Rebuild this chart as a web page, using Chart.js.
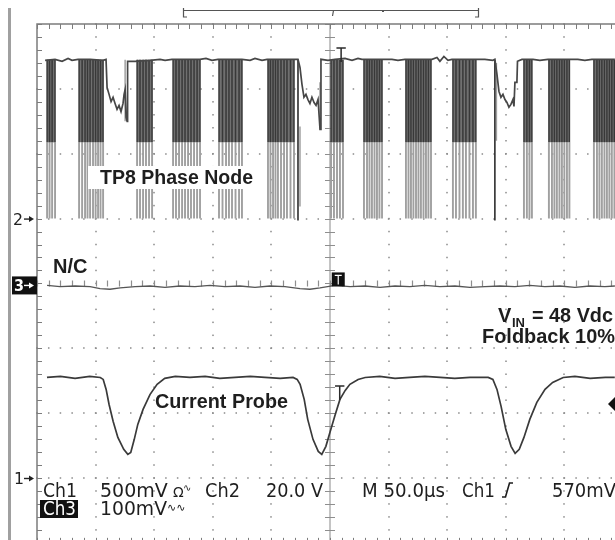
<!DOCTYPE html>
<html>
<head>
<meta charset="utf-8">
<script src="https://cdn.jsdelivr.net/npm/chart.js@4.4.0/dist/chart.umd.min.js"></script>
<style>
html, body { margin: 0; padding: 0; background: #fff; }
canvas { display: block; }
</style>
</head>
<body>
<canvas id="scope" width="615" height="540"></canvas>
<script>
// Horizontal: time in us relative to trigger, 50 us/div. Vertical: screen divisions.
const timeMin = -250;
const timeMax = 243.2;      // screen crop stops a little before the last division
const levelMin = -3.956;
const levelMax = 4;
const divTimes = [-250, -200, -150, -100, -50, 0, 50, 100, 150, 200, 250];
const divLevels = [4, 3, 2, 1, 0, -1, -2, -3, -4];

// channel settings (per div, ground marker position in div)
const ch1MvPerDiv = 500, ch1Ground = -3;
const ch2VPerDiv = 20, ch2Ground = 1;
const ch3MvPerDiv = 100, ch3Ground = 0;

// Ch1 - current probe (mV)
const ch1Time = [-241.5, -230, -217.5, -205, -196, -193.5, -191, -188.5, -185, -181, -176, -172.5, -170, -167, -164, -159.5, -153.5, -147.5, -141, -132,
  -119.5, -106.5, -94, -81, -68, -55.5, -42.5, -31.5, -28, -25.5, -22, -19, -14.5, -10, -7, -3.5, 0, 4.5, 8.5, 13, 17, 24, 30, 42.5,
  55.5, 68, 81, 94, 106.5, 119.5, 135, 139, 142.5, 146, 150, 154.5, 158, 161.5, 165.5, 170.5, 176.5, 183.5, 190, 199, 209, 222, 235, 243];
const ch1Mv = [775, 783, 768, 783, 775, 760, 683, 567, 436, 313, 221, 182, 197, 298, 413, 529, 645, 722, 768, 783,
  775, 783, 768, 775, 783, 775, 768, 775, 760, 722, 606, 452, 298, 205, 182, 244, 352, 490, 606, 675, 722, 760, 775, 783,
  768, 775, 783, 775, 768, 775, 775, 760, 683, 552, 375, 244, 190, 221, 313, 452, 583, 683, 737, 775, 783, 768, 775, 775];

// Ch2 - TP8 phase node (V): upper envelope incl. ringing after each burst train
const ch2TopTime = [-243.1, -234.6, -228.6, -223.5, -220.1, -215, -204.7, -193.6, -191.1,
  -190.2, -188.5, -186.8, -185.1, -183.4, -181.7, -180, -178.3, -176.6, -175.7, -174.8, -174, -173.1, -172.7,
  -166.3, -153.5, -145, -140.7, -134.8, -110.9, -105.8, -100.7, -95.5, -75.1, -68.2, -64, -58, -53.7, -29.9, -27.3,
  -25.6, -23.9, -22.2, -20.5, -18.8, -17.1, -15.4, -13.6, -11.9, -10.2, -8.5, -7.7,
  -1.7, 4.3, 12.8, 18.8, 23.9, 27.3, 45.2, 52.9, 58, 64, 87, 91.3, 93.8, 97.2, 100.7, 104.1, 125.4, 132.2, 139, 140.7,
  142.5, 144.2, 145.9, 147.6, 149.3, 151, 152.7, 154.4, 156.1, 157, 157.8, 159.5, 160,
  163.8, 173.2, 179.1, 186, 204.7, 211.5, 217.5, 223.5, 243.1];
const ch2TopVolt = [48.8, 49.1, 48.5, 49.4, 48.8, 49.1, 49.1, 48.8, 49.1,
  40.4, 38.3, 36.1, 37.4, 35.5, 33.7, 34.9, 33, 35.5, 38.3, 39.8, 31.2, 30, 48.5,
  48.5, 48.8, 49.1, 48.8, 49.1, 49.1, 49.4, 48.8, 49.1, 49.1, 48.8, 49.4, 48.8, 49.1, 49.1, 49.1,
  46.6, 41.4, 37.4, 38.3, 36.7, 35.5, 37.4, 35.8, 34.9, 36.7, 27.5, 49.1,
  48.8, 49.1, 49.4, 48.8, 49.4, 49.1, 49.1, 49.1, 48.8, 49.1, 49.1, 49.7, 48.5, 50, 48.8, 49.1, 49.1, 49.1, 48.8, 49.1,
  44.4, 39.2, 37.4, 38.3, 36.7, 35.8, 34.3, 35.2, 36.7, 34.6, 42, 42, 48.5,
  49.1, 49.1, 48.8, 49.1, 49.1, 49.1, 48.8, 49.1, 49.1];
const ch2High = 49;
const ch2Mid = 23.5;   // where the dense (dark) part of each burst ends
const ch2Low = 0;
// switching edges inside each burst (us)
const burstA = [-241.4, -239.3, -237.1, -234.6];
const burstB = [-214.1, -211.5, -209, -206.9, -204.7, -202.2, -200, -197.9, -195.8, -193.6];
const burstC = [-164.6, -162.1, -159.5, -157, -154.4, -151.8];
const burstD = [-133.9, -131.4, -128.8, -126.2, -123.7, -121.1, -118.6, -116, -113.4, -110.9];
const burstE = [-94.7, -91.7, -88.7, -86.2, -83.6, -80.6, -77.6, -75.1];
const burstF = [-52.9, -50.8, -48.6, -46.5, -44.4, -41.8, -39.2, -36.7, -33.7, -30.7];
const burstG = [0.9, 3.4, 6, 8.5, 11.1];
const burstH = [29, 31.6, 33.7, 35.8, 38, 40.1, 42.2, 44.4];
const burstI = [64.8, 67, 69.1, 71.2, 73.4, 75.5, 77.6, 79.8, 81.9, 84, 86.2];
const burstJ = [104.9, 107.5, 110.5, 113.4, 116, 119, 122, 124.5];
const burstK = [165.5, 168, 170.2, 172.3];
const burstL = [186.8, 189.4, 191.5, 193.6, 195.8, 197.9, 200, 202.2, 204.3];
const burstM = [225.2, 227.8, 229.9, 232, 234.2, 236.3, 238.4, 240.5, 242.7];
const ch2Bursts = [burstA, burstB, burstC, burstD, burstE, burstF, burstG, burstH, burstI, burstJ, burstK, burstL, burstM];
// full-depth drop before the ringing, and faint persistence edges
const edgeTime = [-27.3, 140.7];
const edgeBottom = -0.6;
const ghostTime = [-174.8, -25.6, -8.5, 142];
const ghostTop = [49, 28.4, 42, 48];
const ghostBottom = [30, 3.7, 27.5, 24];

// Ch3 - N/C (mV)
const ch3Time = [-241.4, -230.3, -217.5, -204.7, -196.2, -187.7, -179.1, -166.3, -153.5, -140.8, -128, -115.2, -102.4, -89.6, -76.8, -64, -51.2, -38.4,
  -25.6, -17.1, -8.5, 4.3, 17.1, 29.9, 42.7, 55.5, 68.2, 81, 93.8, 106.6, 119.4, 132.2, 145, 157.8, 170.6, 183.4, 196.2, 209, 221.8, 234.6, 243.1];
const ch3Mv = [-3, -5, -4, -5, -8, -9, -7, -5, -4, -6, -4, -5, -3, -5, -4, -6, -4, -5,
  -8, -9, -7, -3, -5, -4, -6, -4, -5, -3, -5, -4, -6, -5, -4, -5, -3, -5, -4, -6, -4, -5, -4];

const ch1Div = v => v / ch1MvPerDiv + ch1Ground;
const ch2Div = v => v / ch2VPerDiv + ch2Ground;
const ch3Div = v => v / ch3MvPerDiv + ch3Ground;
const pts = (ts, vs, f) => ts.map((t, i) => ({ x: t, y: f(vs[i]) }));

function trace(data, color, width, order, extra) {
    return Object.assign({
        data: data,
        showLine: true,
        borderColor: color,
        borderWidth: width,
        pointRadius: 0,
        fill: false,
        tension: 0,
        order: order
    }, extra || {});
}

const pulseTop = [];
const pulseBottom = [];
const datasets = [];
ch2Bursts.forEach(b => {
    b.forEach(t => {
        pulseTop.push({ x: t, y: ch2Div(ch2High) }, { x: t, y: ch2Div(ch2Mid) }, { x: t, y: null });
        pulseBottom.push({ x: t, y: ch2Div(ch2Mid) }, { x: t, y: ch2Div(ch2Low) }, { x: t, y: null });
    });
    datasets.push(trace([{ x: b[0], y: ch2Div(ch2High) }, { x: b[b.length - 1], y: ch2Div(ch2High) }],
        'rgba(0,0,0,0)', 0, 20, { fill: { value: ch2Div(ch2Mid) }, backgroundColor: '#707070' }));
});
const edges = [];
edgeTime.forEach(t => edges.push({ x: t, y: ch2Div(ch2High) }, { x: t, y: ch2Div(edgeBottom) }, { x: t, y: null }));
const ghosts = [];
ghostTime.forEach((t, i) => ghosts.push({ x: t, y: ch2Div(ghostTop[i]) }, { x: t, y: ch2Div(ghostBottom[i]) }, { x: t, y: null }));

datasets.push(trace(pulseBottom, '#a0a0a0', 1.9, 12));
datasets.push(trace(ghosts, '#a0a0a0', 1.5, 11));
datasets.push(trace(pulseTop, '#383838', 1.5, 10));
datasets.push(trace(edges, '#2e2e2e', 1.6, 9));
datasets.push(trace(pts(ch2TopTime, ch2TopVolt, ch2Div), '#474747', 1.7, 8));
datasets.push(trace(pts(ch3Time, ch3Mv, ch3Div), '#555555', 1.3, 7));
datasets.push(trace(pts(ch1Time, ch1Mv, ch1Div), '#3a3a3a', 1.7, 6));

const graticule = {
    id: 'graticule',
    beforeDatasetsDraw(chart) {
        const { ctx, scales: { x, y } } = chart;
        const X = t => x.getPixelForValue(t);
        const Y = d => y.getPixelForValue(d);
        const x0 = X(divTimes[0]), yTop = Y(divLevels[0]), yBot = Y(divLevels[divLevels.length - 1]);
        const xEnd = X(divTimes[divTimes.length - 1]);
        ctx.save();
        // dotted division lines
        ctx.fillStyle = '#8a8a8a';
        divTimes.forEach(t => {
            if (t === 0 || t === divTimes[0] || t === divTimes[divTimes.length - 1]) return;
            const px = Math.round(X(t));
            for (let k = 0; k <= 40; k++) ctx.fillRect(px - 0.75, Y(4 - k * 0.2) - 0.75, 1.5, 1.5);
        });
        divLevels.forEach(d => {
            if (d === 0 || d === 4 || d === -4) return;
            const py = Math.round(Y(d));
            for (let k = 0; k <= 50; k++) ctx.fillRect(X(-250 + k * 10) - 0.75, py - 0.75, 1.5, 1.5);
        });
        // centre axes
        ctx.strokeStyle = '#c4c4c4';
        ctx.lineWidth = 2;
        ctx.beginPath();
        ctx.moveTo(X(0), yTop); ctx.lineTo(X(0), yBot);
        ctx.stroke();
        ctx.strokeStyle = '#8e8e8e';
        ctx.lineWidth = 1.2;
        ctx.beginPath();
        for (let k = 0; k <= 40; k++) {
            const py = Math.round(Y(4 - k * 0.2)) + 0.5;
            ctx.moveTo(X(0) - 5, py); ctx.lineTo(X(0) + 5, py);
        }
        for (let k = 0; k <= 50; k++) {
            const px = Math.round(X(-250 + k * 10)) + 0.5;
            ctx.moveTo(px, Y(0) - 3); ctx.lineTo(px, Y(0) + 3);
        }
        ctx.stroke();
        // frame with minor ticks
        ctx.strokeStyle = '#7c7c7c';
        ctx.lineWidth = 1.5;
        ctx.beginPath();
        ctx.moveTo(x0, yBot + 5); ctx.lineTo(x0, yTop); ctx.lineTo(xEnd, yTop);
        ctx.moveTo(x0, yBot); ctx.lineTo(xEnd, yBot);
        ctx.stroke();
        ctx.lineWidth = 1;
        ctx.beginPath();
        for (let k = 0; k <= 50; k++) {
            const px = Math.round(X(-250 + k * 10)) + 0.5;
            ctx.moveTo(px, yTop); ctx.lineTo(px, yTop + 5);
            ctx.moveTo(px, yBot); ctx.lineTo(px, yBot - 5);
        }
        for (let k = 0; k <= 40; k++) {
            const py = Math.round(Y(4 - k * 0.2)) + 0.5;
            ctx.moveTo(x0, py); ctx.lineTo(x0 + 5, py);
        }
        ctx.stroke();
        ctx.restore();
    }
};

function label(ctx, text, x, y, font, maxW, color) {
    ctx.font = font;
    ctx.fillStyle = color || '#1e1e1e';
    if (maxW) ctx.fillText(text, x, y, maxW); else ctx.fillText(text, x, y);
}

const annotations = {
    id: 'annotations',
    afterDatasetsDraw(chart) {
        const { ctx, scales: { x, y } } = chart;
        const X = t => x.getPixelForValue(t);
        const Y = d => y.getPixelForValue(d);
        const bold = 'bold 20px "Liberation Sans", Arial, sans-serif';
        ctx.save();
        ctx.textBaseline = 'alphabetic';

        // trace labels
        ctx.fillStyle = '#fff';
        ctx.fillRect(88, 166, 174, 23);
        label(ctx, 'TP8 Phase Node', 100, 184, bold, 153);
        label(ctx, 'N/C', 53, 273, bold, 35);
        label(ctx, 'Current Probe', 155, 408, bold, 133);
        label(ctx, 'V', 498, 322, bold);
        label(ctx, 'IN', 512, 327, 'bold 13px "Liberation Sans", Arial, sans-serif');
        label(ctx, '= 48 Vdc', 532, 322, bold, 81);
        label(ctx, 'Foldback 10%', 482, 343, bold, 133);

        // trigger markers
        ctx.strokeStyle = '#2a2a2a';
        ctx.lineWidth = 1.5;
        ctx.beginPath();
        ctx.moveTo(X(5.5), 48); ctx.lineTo(X(13.5), 48);
        ctx.moveTo(X(9.5), 48); ctx.lineTo(X(9.5), 62);
        ctx.moveTo(X(4.3), 386); ctx.lineTo(X(12.3), 386);
        ctx.moveTo(X(8.3), 386); ctx.lineTo(X(8.3), 400);
        ctx.stroke();
        ctx.fillStyle = '#111';
        ctx.fillRect(X(1.5), Y(ch3Ground) - 11, 13, 14);
        ctx.strokeStyle = '#fff';
        ctx.lineWidth = 1.2;
        ctx.beginPath();
        ctx.moveTo(X(1.5) + 3, Y(ch3Ground) - 8); ctx.lineTo(X(1.5) + 10, Y(ch3Ground) - 8);
        ctx.moveTo(X(1.5) + 6.5, Y(ch3Ground) - 8); ctx.lineTo(X(1.5) + 6.5, Y(ch3Ground) + 1);
        ctx.stroke();
        const trigY = Y(ch1Div(570));
        ctx.fillStyle = '#111';
        ctx.beginPath();
        ctx.moveTo(608, trigY); ctx.lineTo(615, trigY - 7); ctx.lineTo(622, trigY); ctx.lineTo(615, trigY + 7);
        ctx.closePath(); ctx.fill();
        ctx.restore();
    },
    afterDraw(chart) {
        const { ctx, scales: { y } } = chart;
        const Y = d => y.getPixelForValue(d);
        const mono = '19px "DejaVu Sans", sans-serif';
        ctx.save();
        // left bezel line
        ctx.strokeStyle = '#a0a0a0';
        ctx.lineWidth = 3;
        ctx.beginPath(); ctx.moveTo(9.5, 8); ctx.lineTo(9.5, 540); ctx.stroke();
        // record bracket
        ctx.strokeStyle = '#555';
        ctx.lineWidth = 1.2;
        ctx.beginPath();
        ctx.moveTo(187, 17); ctx.lineTo(183.5, 17); ctx.lineTo(183.5, 8);
        ctx.moveTo(183.5, 10.5); ctx.lineTo(478.5, 10.5);
        ctx.moveTo(478.5, 8); ctx.lineTo(478.5, 17); ctx.lineTo(475, 17);
        ctx.moveTo(333.5, 10.5); ctx.lineTo(332.5, 16);
        ctx.stroke();
        ctx.fillStyle = '#555';
        ctx.fillRect(382, 10, 2, 2);

        // channel ground markers
        const arrow = (x, yy, c) => {
            ctx.strokeStyle = c; ctx.fillStyle = c; ctx.lineWidth = 1.4;
            ctx.beginPath(); ctx.moveTo(x, yy); ctx.lineTo(x + 7, yy); ctx.stroke();
            ctx.beginPath(); ctx.moveTo(x + 5, yy - 3); ctx.lineTo(x + 10, yy); ctx.lineTo(x + 5, yy + 3); ctx.closePath(); ctx.fill();
        };
        const g2 = Y(ch2Ground), g1 = Y(ch1Ground), g3 = Y(ch3Ground);
        label(ctx, '2', 13, g2 + 6, '16px "DejaVu Sans", sans-serif', 10, '#222');
        arrow(24, g2 + 0.5, '#222');
        label(ctx, '1', 14, g1 + 6, '16px "DejaVu Sans", sans-serif', 10, '#222');
        arrow(24, g1 + 0.5, '#222');
        ctx.fillStyle = '#111';
        ctx.fillRect(12, g3 - 7, 25, 18);
        label(ctx, '3', 14, g3 + 8, 'bold 15px "DejaVu Sans", sans-serif', 10, '#fff');
        arrow(24, g3 + 2, '#fff');

        // status line
        const row1 = 497, row2 = 515;
        label(ctx, 'Ch1', 43, row1, mono, 34);
        label(ctx, '500mV', 100, row1, mono, 73);
        label(ctx, 'Ω', 173, row1, '14px "DejaVu Sans", sans-serif');
        label(ctx, '∿', 183, row1 - 6, '10px "DejaVu Sans", sans-serif');
        label(ctx, 'Ch2', 205, row1, mono, 35);
        label(ctx, '20.0 V', 266, row1, mono, 57);
        label(ctx, 'M 50.0µs', 362, row1, mono, 83);
        label(ctx, 'Ch1', 462, row1, mono, 33);
        ctx.strokeStyle = '#1e1e1e';
        ctx.lineWidth = 1.6;
        ctx.beginPath();
        ctx.moveTo(502, row1); ctx.lineTo(505.5, row1); ctx.lineTo(509.5, row1 - 14); ctx.lineTo(513, row1 - 14);
        ctx.stroke();
        label(ctx, '570mV', 552, row1, mono, 64);
        ctx.fillStyle = '#111';
        ctx.fillRect(40, 500, 38, 18);
        label(ctx, 'Ch3', 43, row2, mono, 33, '#fff');
        label(ctx, '100mV', 100, row2, mono, 67);
        label(ctx, '∿∿', 167, row2 - 4, '11px "DejaVu Sans", sans-serif');
        ctx.restore();
    }
};

const ctx = document.getElementById('scope').getContext('2d');
new Chart(ctx, {
    type: 'scatter',
    data: { datasets: datasets },
    options: {
        responsive: false,
        animation: false,
        events: [],
        layout: { padding: { left: 37, top: 24, right: 0, bottom: 0 } },
        plugins: { legend: { display: false }, tooltip: { enabled: false } },
        scales: {
            x: { type: 'linear', min: timeMin, max: timeMax, display: false },
            y: { type: 'linear', min: levelMin, max: levelMax, display: false }
        }
    },
    plugins: [graticule, annotations]
});
</script>
</body>
</html>
